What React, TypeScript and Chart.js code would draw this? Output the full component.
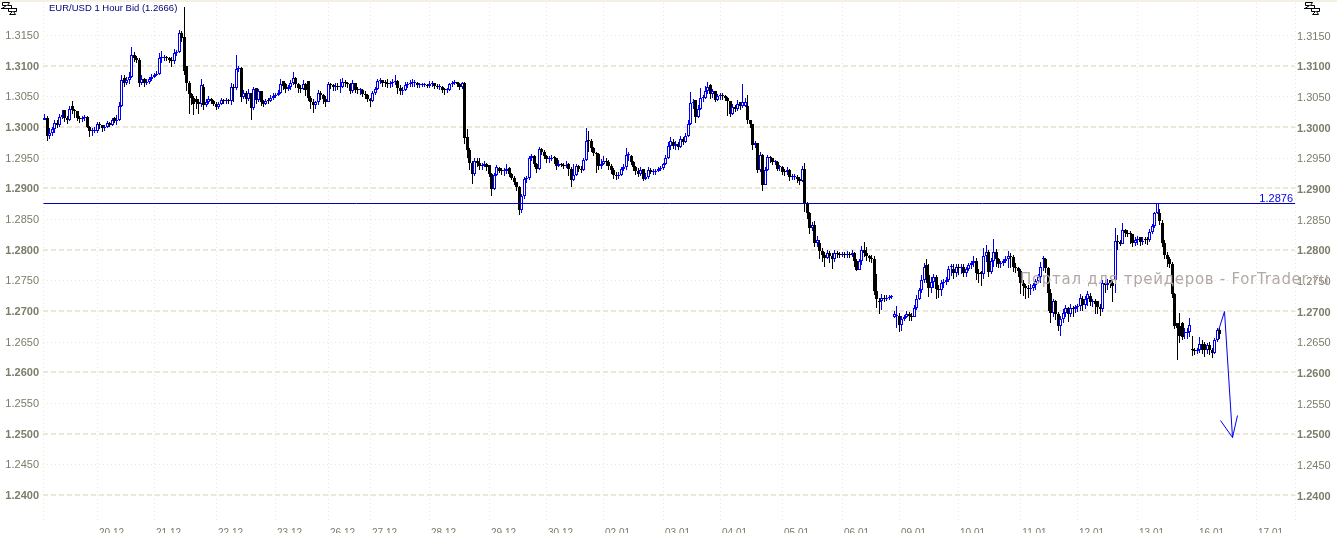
import React, { useEffect, useRef } from "react";
import { Chart, registerables } from "chart.js";

Chart.register(...registerables);

// All prices are in points: 13015 means 1.3015
const opens = [
13012,13015,12985,12990,12996,13006,13004,13016,13027,13015,
13012,13035,13028,13026,13015,13013,13014,13017,13000,12993,
12993,12994,13005,13003,12998,13000,13006,13004,13014,13009,
13012,13035,13080,13072,13076,13082,13118,13112,13110,13072,
13078,13072,13073,13078,13082,13085,13087,13112,13113,13114,
13113,13110,13107,13120,13122,13154,13147,13100,13072,13054,
13048,13045,13040,13038,13066,13036,13040,13045,13042,13038,
13033,13037,13044,13042,13043,13042,13066,13064,13094,13096,
13049,13055,13045,13055,13031,13063,13044,13058,13040,13037,
13043,13042,13048,13050,13052,13056,13075,13070,13062,13065,
13072,13080,13070,13063,13062,13070,13075,13048,13040,13036,
13040,13056,13052,13046,13040,13070,13068,13065,13067,13065,
13066,13074,13072,13070,13059,13071,13061,13060,13060,13054,
13052,13045,13042,13055,13062,13075,13076,13072,13071,13070,
13071,13073,13075,13063,13058,13060,13069,13070,13072,13072,
13072,13068,13068,13068,13068,13067,13070,13071,13067,13066,
13066,13061,13060,13060,13070,13072,13073,13070,13065,13071,
12984,12962,12942,12923,12945,12942,12937,12938,12940,12938,
12923,12899,12922,12933,12929,12928,12928,12933,12923,12917,
12911,12902,12864,12888,12915,12917,12950,12953,12940,12932,
12964,12960,12953,12948,12948,12950,12949,12937,12940,12938,
12937,12940,12932,12914,12922,12937,12931,12930,12947,12978,
12977,12965,12957,12956,12936,12940,12945,12943,12937,12930,
12921,12920,12922,12932,12935,12954,12952,12943,12935,12928,
12924,12932,12916,12918,12930,12927,12927,12928,12931,12933,
12940,12950,12969,12976,12969,12973,12968,12981,12976,12985,
13005,13039,13044,13017,13030,13048,13048,13058,13068,13054,
13058,13044,13050,13051,13050,13047,13043,13022,13032,13030,
13040,13034,13035,13035,13011,13005,12970,12974,12930,12954,
12905,12930,12951,12949,12943,12943,12934,12934,12927,12926,
12930,12919,12919,12919,12915,12912,12932,12875,12860,12835,
12840,12811,12811,12798,12792,12786,12795,12790,12785,12795,
12793,12792,12793,12792,12793,12791,12795,12781,12767,12781,
12800,12795,12789,12786,12784,12732,12716,12716,12722,12720,
12722,12723,12690,12692,12692,12678,12687,12690,12695,12692,
12690,12705,12720,12735,12750,12775,12758,12738,12748,12755,
12736,12735,12746,12748,12751,12772,12769,12762,12772,12770,
12772,12762,12768,12775,12778,12781,12762,12763,12761,12789,
12797,12763,12782,12797,12784,12776,12778,12781,12785,12789,
12788,12772,12770,12766,12746,12740,12738,12736,12738,12742,
12749,12755,12784,12784,12770,12730,12697,12716,12695,12676,
12687,12697,12705,12695,12705,12703,12706,12708,12720,12709,
12720,12725,12715,12716,12716,12707,12703,12745,12742,12750,
12745,12750,12814,12812,12810,12832,12828,12826,12825,12811,
12815,12820,12813,12818,12816,12815,12829,12838,12860,12860,
12843,12811,12792,12785,12777,12727,12681,12676,12681,12664,
12664,12665,12637,12636,12634,12636,12647,12647,12636,12645,
12636,12631,12653,12669,
];
const closes = [
13015,12985,12990,12996,13006,13004,13016,13020,13015,13012,
13030,13028,13026,13015,13013,13014,13016,13000,12993,12993,
12994,13005,13003,12998,13000,13006,13004,13012,13009,13012,
13035,13077,13072,13076,13082,13117,13112,13110,13072,13078,
13072,13073,13078,13082,13085,13087,13112,13113,13114,13113,
13110,13107,13120,13122,13154,13145,13092,13072,13054,13048,
13038,13040,13038,13068,13036,13040,13045,13042,13038,13033,
13037,13044,13042,13043,13042,13066,13064,13094,13097,13049,
13055,13045,13055,13031,13062,13044,13058,13040,13037,13043,
13042,13048,13050,13052,13056,13070,13067,13062,13065,13072,
13080,13070,13063,13062,13070,13061,13048,13040,13036,13040,
13056,13052,13046,13040,13070,13068,13065,13067,13065,13066,
13074,13072,13070,13059,13071,13061,13060,13060,13054,13052,
13045,13042,13055,13062,13075,13076,13072,13071,13070,13071,
13073,13075,13063,13058,13060,13069,13070,13072,13072,13072,
13068,13068,13068,13068,13067,13070,13071,13067,13066,13066,
13061,13060,13060,13070,13072,13073,13070,13065,13071,12982,
12962,12942,12923,12945,12942,12937,12938,12940,12934,12923,
12899,12922,12934,12929,12928,12928,12932,12923,12917,12911,
12902,12864,12888,12915,12917,12950,12953,12940,12932,12964,
12960,12953,12948,12948,12950,12949,12937,12940,12938,12937,
12938,12932,12914,12922,12936,12931,12930,12947,12978,12977,
12965,12957,12956,12936,12940,12945,12943,12937,12930,12921,
12920,12922,12932,12935,12954,12955,12943,12935,12928,12924,
12930,12916,12918,12930,12927,12927,12928,12931,12933,12940,
12950,12969,12978,12969,12973,12968,12980,12976,12985,13005,
13039,13040,13017,13030,13048,13048,13058,13066,13054,13058,
13044,13050,13051,13050,13047,13043,13022,13033,13030,13038,
13034,13040,13040,13011,13005,12970,12974,12930,12954,12905,
12930,12951,12949,12943,12943,12932,12934,12927,12926,12930,
12918,12919,12919,12915,12912,12932,12875,12860,12835,12840,
12811,12815,12798,12792,12786,12795,12790,12785,12795,12793,
12792,12793,12792,12793,12791,12795,12781,12767,12781,12800,
12795,12789,12786,12784,12732,12720,12714,12722,12720,12722,
12723,12724,12695,12692,12678,12687,12690,12695,12692,12690,
12705,12720,12735,12750,12772,12758,12738,12748,12755,12736,
12735,12746,12748,12751,12769,12772,12762,12772,12770,12772,
12762,12768,12775,12778,12781,12762,12760,12761,12789,12797,
12763,12782,12797,12784,12776,12778,12781,12785,12790,12788,
12772,12770,12766,12746,12740,12738,12736,12738,12742,12749,
12755,12772,12784,12770,12730,12697,12716,12695,12676,12687,
12697,12705,12695,12705,12703,12706,12708,12722,12709,12720,
12727,12715,12716,12712,12707,12703,12745,12742,12745,12745,
12740,12814,12812,12810,12832,12828,12826,12825,12811,12815,
12817,12813,12814,12816,12815,12829,12838,12860,12876,12846,
12811,12792,12785,12777,12727,12676,12672,12660,12657,12664,
12665,12678,12636,12634,12636,12647,12637,12636,12645,12636,
12631,12653,12669,12663,
];
const highs = [
13022,13018,12998,13000,13012,13012,13022,13028,13026,13018,
13035,13042,13030,13026,13018,13018,13020,13018,13002,12998,
13000,13008,13008,13004,13003,13010,13008,13015,13016,13020,
13040,13085,13084,13082,13090,13130,13122,13116,13112,13084,
13080,13078,13082,13086,13088,13092,13120,13124,13118,13116,
13114,13114,13128,13126,13158,13156,13196,13095,13075,13056,
13050,13050,13046,13078,13070,13046,13050,13047,13044,13040,
13040,13047,13046,13047,13046,13072,13070,13118,13100,13098,
13060,13058,13062,13056,13066,13064,13062,13050,13044,13046,
13047,13052,13056,13056,13060,13078,13075,13072,13068,13076,
13089,13082,13072,13068,13076,13072,13066,13050,13045,13043,
13060,13058,13054,13050,13074,13072,13070,13072,13072,13078,
13080,13076,13074,13072,13076,13072,13066,13064,13062,13058,
13054,13048,13058,13066,13078,13080,13077,13076,13078,13075,
13078,13084,13076,13068,13066,13074,13074,13076,13079,13077,
13073,13071,13071,13071,13070,13075,13075,13072,13070,13070,
13067,13064,13064,13072,13075,13076,13074,13072,13074,13073,
12997,12965,12945,12950,12950,12950,12942,12944,12942,12938,
12925,12925,12938,12935,12933,12933,12940,12934,12925,12920,
12910,12904,12890,12918,12920,12952,12956,12955,12942,12968,
12966,12963,12955,12952,12955,12953,12950,12946,12942,12941,
12944,12942,12934,12940,12940,12938,12936,12950,12999,12994,
12980,12968,12960,12958,12948,12952,12950,12946,12940,12933,
12926,12926,12935,12940,12966,12960,12955,12945,12937,12933,
12934,12932,12925,12934,12933,12931,12932,12935,12937,12942,
12955,12975,12983,12980,12978,12975,12985,12983,12990,13012,
13057,13045,13042,13036,13064,13052,13067,13073,13070,13062,
13056,13054,13055,13055,13052,13049,13043,13037,13036,13044,
13040,13070,13048,13052,13012,13005,12978,12974,12960,12956,
12934,12955,12953,12948,12947,12944,12938,12936,12931,12935,
12932,12924,12923,12922,12918,12936,12941,12878,12862,12845,
12846,12822,12815,12803,12796,12800,12798,12794,12800,12798,
12797,12797,12797,12798,12796,12799,12796,12784,12785,12806,
12812,12804,12792,12792,12790,12760,12722,12728,12726,12726,
12726,12726,12700,12708,12696,12692,12694,12700,12698,12696,
12710,12726,12738,12758,12778,12785,12776,12756,12760,12758,
12742,12750,12752,12756,12774,12776,12776,12776,12776,12776,
12776,12772,12778,12782,12790,12786,12768,12766,12803,12807,
12800,12786,12817,12801,12786,12782,12785,12790,12798,12794,
12792,12778,12772,12768,12750,12744,12742,12744,12746,12753,
12760,12780,12790,12786,12772,12736,12720,12718,12698,12692,
12703,12709,12706,12711,12708,12710,12712,12728,12724,12724,
12732,12730,12720,12720,12716,12712,12750,12750,12752,12750,
12752,12835,12824,12816,12843,12834,12832,12830,12826,12820,
12822,12820,12820,12820,12820,12833,12842,12862,12876,12866,
12848,12815,12796,12788,12780,12730,12680,12697,12682,12672,
12673,12688,12660,12640,12640,12657,12652,12650,12648,12650,
12640,12656,12672,12672,
];
const lows = [
13012,12978,12980,12986,12990,12999,13000,13013,13008,13005,
13010,13022,13014,13010,13006,13008,13010,12998,12984,12986,
12990,12990,12996,12992,12994,12998,13000,13001,13006,13004,
13010,13032,13065,13068,13070,13080,13106,13104,13065,13068,
13065,13068,13070,13075,13080,13083,13085,13105,13108,13108,
13104,13098,13103,13115,13120,13138,13085,13058,13022,13036,
13020,13030,13022,13033,13028,13032,13038,13038,13034,13028,
13030,13036,13038,13038,13038,13036,13040,13060,13090,13040,
13045,13038,13042,13012,13028,13038,13040,13034,13032,13036,
13038,13040,13044,13047,13050,13054,13060,13056,13058,13060,
13068,13064,13056,13055,13060,13050,13042,13030,13023,13030,
13036,13044,13038,13032,13040,13062,13058,13058,13060,13056,
13063,13066,13064,13054,13055,13056,13054,13053,13049,13046,
13040,13032,13040,13052,13060,13070,13066,13066,13064,13064,
13066,13068,13054,13052,13052,13058,13063,13066,13066,13066,
13064,13064,13065,13065,13063,13064,13065,13062,13062,13061,
13055,13052,13055,13058,13066,13068,13066,13061,13062,12972,
12950,12930,12907,12920,12934,12930,12930,12934,12928,12918,
12887,12897,12920,12925,12922,12920,12924,12918,12913,12905,
12896,12856,12860,12882,12908,12914,12945,12935,12925,12930,
12954,12948,12942,12942,12944,12940,12930,12934,12934,12932,
12933,12920,12902,12912,12920,12926,12925,12928,12945,12960,
12960,12953,12925,12930,12932,12938,12936,12930,12923,12916,
12914,12916,12920,12928,12930,12945,12938,12928,12922,12918,
12920,12912,12913,12915,12923,12922,12922,12926,12928,12930,
12938,12948,12962,12964,12962,12962,12965,12970,12974,12983,
13003,13030,13006,13014,13028,13040,13046,13054,13046,13048,
13040,13042,13044,13044,13042,13018,13016,13020,13024,13026,
13027,13031,13032,13005,12998,12962,12965,12925,12926,12895,
12905,12928,12942,12938,12938,12928,12928,12922,12920,12922,
12912,12914,12914,12908,12906,12910,12861,12850,12825,12830,
12805,12805,12785,12780,12772,12784,12778,12768,12780,12786,
12787,12788,12786,12787,12786,12788,12772,12765,12768,12775,
12788,12782,12780,12778,12726,12705,12695,12702,12714,12716,
12718,12719,12688,12672,12665,12668,12684,12688,12684,12684,
12692,12702,12718,12730,12745,12745,12723,12730,12738,12719,
12722,12725,12738,12742,12748,12757,12752,12755,12758,12760,
12755,12755,12765,12768,12772,12750,12745,12740,12752,12780,
12755,12760,12772,12772,12770,12770,12774,12778,12770,12770,
12764,12762,12755,12727,12725,12720,12722,12726,12732,12735,
12745,12745,12765,12762,12700,12681,12690,12685,12668,12660,
12680,12690,12682,12690,12690,12696,12698,12700,12700,12704,
12708,12708,12706,12695,12695,12692,12698,12730,12734,12738,
12714,12730,12800,12806,12812,12820,12820,12810,12804,12806,
12808,12806,12808,12810,12808,12813,12826,12835,12858,12840,
12805,12785,12772,12770,12722,12670,12620,12648,12652,12655,
12655,12658,12627,12628,12630,12632,12630,12625,12630,12628,
12624,12630,12650,12655,
];

const dayBars = [21, 44, 69, 93, 114, 131, 155, 179, 202, 225, 249, 272, 297, 321, 344, 368, 393, 416, 440, 464, 488];
const dayLabels = ["20.12", "21.12", "22.12", "23.12", "26.12", "27.12", "28.12", "29.12", "30.12", "02.01", "03.01", "04.01", "05.01", "06.01", "09.01", "10.01", "11.01", "12.01", "13.01", "16.01", "17.01"];
const priceTicks = [1.24, 1.245, 1.25, 1.255, 1.26, 1.265, 1.27, 1.275, 1.28, 1.285, 1.29, 1.295, 1.3, 1.305, 1.31, 1.315];

const levelPrice = 1.2876;
const arrowBars = [472.4, 475.2, 478.3, 480.3];
const arrowPrices = [1.2669, 1.27, 1.2493, 1.2529];
const barbBars = [473.2, 478.3];
const barbPrices = [1.2522, 1.2493];

const titleText = "EUR/USD 1 Hour Bid (1.2666)";
const levelText = "1.2876";
const watermarkText = "Портал для трейдеров - ForTrader.ru";

const BAR_MIN = -0.8;
const BAR_MAX = 503.4;
const PRICE_MIN = 1.2356;
const PRICE_MAX = 1.32022;

const BLUE = "#0000f0";
const GRID = "#ece7d6";
const AXIS_TEXT = "#7c7c68";
const FONT = "'Liberation Sans', Arial, sans-serif";

const snapScale = (scale: any, offset: number) => {
  if (scale._snapped) return;
  const original = scale.getPixelForValue.bind(scale);
  scale.getPixelForValue = (v: number, i?: number) => Math.round(original(v, i) - offset) + offset;
  scale._snapped = true;
};

const isMajor = (value: number) => Math.round(value * 10000) % 100 === 0;

const yAxis = (position: "left" | "right", gridOn: boolean, width: number, offset: number, padding: number) => ({
  type: "linear",
  position,
  min: PRICE_MIN,
  max: PRICE_MAX,
  afterBuildTicks(scale: any) {
    scale.ticks = priceTicks.map((value) => ({ value }));
  },
  afterFit(scale: any) {
    scale.width = width;
    scale.paddingTop = 0;
    scale.paddingBottom = 0;
    snapScale(scale, offset);
  },
  border: {
    display: false,
    dash: (ctx: any) => (ctx.tick && isMajor(ctx.tick.value) ? [5, 3] : [1, 3]),
  },
  grid: {
    display: gridOn,
    drawTicks: false,
    color: GRID,
    lineWidth: (ctx: any) => (ctx.tick && isMajor(ctx.tick.value) ? 2 : 1),
  },
  ticks: {
    padding,
    labelOffset: 1,
    color: AXIS_TEXT,
    autoSkip: false,
    font: (ctx: any) => ({ family: FONT, size: 11, weight: ctx.tick && isMajor(ctx.tick.value) ? "bold" : "normal" }),
    callback: (v: number) => Number(v).toFixed(4),
  },
});

const drawIcon = (ctx: CanvasRenderingContext2D, x: number) => {
  ctx.save();
  ctx.translate(x, 0);
  ctx.strokeStyle = "#000";
  ctx.lineWidth = 1;
  ctx.beginPath();
  ctx.moveTo(1, 8.5); ctx.lineTo(17, 8.5);
  ctx.moveTo(2, 8.5); ctx.lineTo(6.5, 5.5); ctx.lineTo(2.5, 5.5); ctx.lineTo(2.5, 2.5); ctx.lineTo(9.5, 2.5);
  ctx.lineTo(7.5, 5.5); ctx.lineTo(11.5, 5.5); ctx.lineTo(11.5, 8.5);
  ctx.moveTo(8.5, 8.5); ctx.lineTo(8.5, 11.5); ctx.lineTo(12.5, 11.5); ctx.lineTo(9.5, 14.5); ctx.lineTo(15.5, 14.5);
  ctx.lineTo(13.5, 11.5); ctx.lineTo(16.5, 11.5); ctx.lineTo(16.5, 8.5);
  ctx.stroke();
  ctx.restore();
};

const decorations = {
  id: "decorations",
  beforeDraw(chart: any) {
    const { ctx, width, height } = chart;
    ctx.save();
    ctx.fillStyle = "#ffffff";
    ctx.fillRect(0, 0, width, height);
    ctx.fillStyle = "#f4f1e2";
    ctx.fillRect(0, 0, width, 2);
    ctx.restore();
  },
  afterDraw(chart: any) {
    const { ctx, chartArea } = chart;
    ctx.save();
    ctx.textBaseline = "alphabetic";
    ctx.textAlign = "left";
    ctx.font = `9.5px ${FONT}`;
    ctx.fillStyle = "#000080";
    ctx.fillText(titleText, 49, 11);

    ctx.font = `11px ${FONT}`;
    ctx.fillStyle = BLUE;
    ctx.textAlign = "right";
    ctx.fillText(levelText, chartArea.right - 2, chart.scales.y2.getPixelForValue(levelPrice) - 2);

    ctx.textAlign = "left";
    ctx.font = `15px 'DejaVu Sans', sans-serif`;
    (ctx as any).letterSpacing = "0.7px";
    ctx.fillStyle = "#b3a8a8";
    ctx.fillText(watermarkText, 1020, 284);
    (ctx as any).letterSpacing = "0px";
    ctx.restore();

    drawIcon(ctx, 0);
    drawIcon(ctx, 1303);
  },
};

export default function App() {
  const ref = useRef<HTMLCanvasElement>(null);

  useEffect(() => {
    const isUp = (i: number) => closes[i] >= opens[i];
    const chart = new Chart(ref.current as HTMLCanvasElement, {
      type: "bar",
      plugins: [decorations],
      data: {
        datasets: [
          {
            type: "line",
            label: "Level",
            data: [
              { x: BAR_MIN, y: levelPrice },
              { x: BAR_MAX, y: levelPrice },
            ],
            xAxisID: "x",
            yAxisID: "y2",
            borderColor: "#0000c8",
            borderWidth: 1,
            pointRadius: 0,
          },
          {
            type: "line",
            label: "Arrow",
            data: arrowBars.map((x, i) => ({ x, y: arrowPrices[i] })),
            xAxisID: "x",
            yAxisID: "y2",
            borderColor: BLUE,
            borderWidth: 1,
            pointRadius: 0,
          },
          {
            type: "line",
            label: "Arrow barb",
            data: barbBars.map((x, i) => ({ x, y: barbPrices[i] })),
            xAxisID: "x",
            yAxisID: "y2",
            borderColor: BLUE,
            borderWidth: 1,
            pointRadius: 0,
          },
          {
            label: "Body",
            data: closes.map((c, i) => ({ x: i, y: [opens[i] / 10000, c / 10000] })),
            xAxisID: "x",
            yAxisID: "y",
            grouped: false,
            barPercentage: 10,
            categoryPercentage: 1,
            maxBarThickness: 3,
            minBarLength: 1,
            inflateAmount: 0,
            borderSkipped: false,
            borderWidth: (c: any) => (isUp(c.dataIndex) ? 1 : 0),
            borderColor: (c: any) => (isUp(c.dataIndex) ? BLUE : "#000"),
            backgroundColor: (c: any) => (isUp(c.dataIndex) ? "#fff" : "#000"),
          },
          {
            label: "Wick",
            data: closes.map((_, i) => ({ x: i, y: [lows[i] / 10000, highs[i] / 10000] })),
            xAxisID: "x",
            yAxisID: "y",
            grouped: false,
            barPercentage: 10,
            categoryPercentage: 1,
            maxBarThickness: 1,
            minBarLength: 1,
            inflateAmount: 0,
            borderWidth: 0,
            backgroundColor: (c: any) => (isUp(c.dataIndex) ? BLUE : "#000"),
          },
        ],
      } as any,
      options: {
        animation: false,
        responsive: false,
        devicePixelRatio: 1,
        layout: { padding: { top: 3, left: 0, right: 0, bottom: 0 } },
        plugins: { legend: { display: false }, tooltip: { enabled: false }, title: { display: false } },
        events: [],
        scales: {
          x: {
            type: "linear",
            min: BAR_MIN,
            max: BAR_MAX,
            offset: false,
            afterBuildTicks(scale: any) {
              scale.ticks = [BAR_MIN, ...dayBars, BAR_MAX].map((value) => ({ value }));
            },
            afterFit(scale: any) {
              scale.height = 11;
              scale.paddingLeft = 0;
              scale.paddingRight = 0;
              snapScale(scale, 0.5);
            },
            border: { display: false, dash: [1, 3] },
            grid: { offset: false, drawTicks: false, color: GRID, lineWidth: 1 },
            ticks: {
              padding: 5,
              labelOffset: 14,
              maxRotation: 0,
              minRotation: 0,
              autoSkip: false,
              color: AXIS_TEXT,
              font: { family: FONT, size: 10 },
              callback: (v: number) => {
                const k = dayBars.indexOf(v);
                return k >= 0 ? dayLabels[k] : "";
              },
            },
          },
          y: yAxis("left", true, 43, 0, 4),
          y2: yAxis("right", false, 42, 0.5, 2),
        },
      } as any,
    });
    return () => chart.destroy();
  }, []);

  return (
    <div style={{ position: "absolute", left: 0, top: 0, width: 1337, height: 533, overflow: "hidden" }}>
      <canvas ref={ref} width={1337} height={533} style={{ display: "block" }} />
    </div>
  );
}
